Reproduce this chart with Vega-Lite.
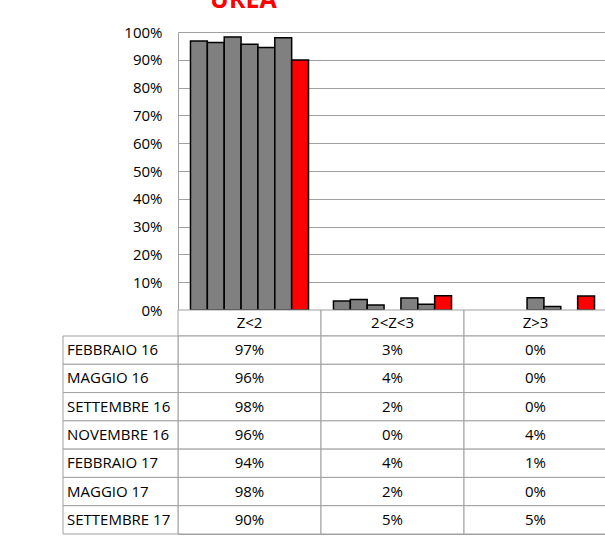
{
  "$schema": "https://vega.github.io/schema/vega-lite/v6.json",
  "autosize": {"type": "none"},
  "padding": {"left": 178, "top": 32, "right": 0, "bottom": 3},
  "width": 429,
  "height": 502,
  "background": "white",
  "config": {
    "view": {"stroke": "#a0a0a0", "strokeWidth": 1},
    "font": "Open Sans",
    "text": {"font": "Open Sans", "fontSize": 15, "color": "black"}
  },
  "title": {
    "text": "UREA",
    "color": "#ff0000",
    "font": "Open Sans",
    "fontWeight": "bold",
    "fontSize": 25,
    "anchor": "start",
    "frame": "group",
    "dx": 32,
    "dy": 14,
    "baseline": "alphabetic",
    "offset": 6
  },
  "datasets": {
    "bars": [
      {"serie": "FEBBRAIO 16", "cat": "Z<2", "value": 0.968},
      {"serie": "FEBBRAIO 16", "cat": "2<Z<3", "value": 0.032},
      {"serie": "FEBBRAIO 16", "cat": "Z>3", "value": 0.0},
      {"serie": "MAGGIO 16", "cat": "Z<2", "value": 0.962},
      {"serie": "MAGGIO 16", "cat": "2<Z<3", "value": 0.038},
      {"serie": "MAGGIO 16", "cat": "Z>3", "value": 0.0},
      {"serie": "SETTEMBRE 16", "cat": "Z<2", "value": 0.982},
      {"serie": "SETTEMBRE 16", "cat": "2<Z<3", "value": 0.018},
      {"serie": "SETTEMBRE 16", "cat": "Z>3", "value": 0.0},
      {"serie": "NOVEMBRE 16", "cat": "Z<2", "value": 0.956},
      {"serie": "NOVEMBRE 16", "cat": "2<Z<3", "value": 0.0},
      {"serie": "NOVEMBRE 16", "cat": "Z>3", "value": 0.044},
      {"serie": "FEBBRAIO 17", "cat": "Z<2", "value": 0.944},
      {"serie": "FEBBRAIO 17", "cat": "2<Z<3", "value": 0.043},
      {"serie": "FEBBRAIO 17", "cat": "Z>3", "value": 0.013},
      {"serie": "MAGGIO 17", "cat": "Z<2", "value": 0.979},
      {"serie": "MAGGIO 17", "cat": "2<Z<3", "value": 0.021},
      {"serie": "MAGGIO 17", "cat": "Z>3", "value": 0.0},
      {"serie": "SETTEMBRE 17", "cat": "Z<2", "value": 0.899},
      {"serie": "SETTEMBRE 17", "cat": "2<Z<3", "value": 0.051},
      {"serie": "SETTEMBRE 17", "cat": "Z>3", "value": 0.05}
    ],
    "header": [
      {"cat": "Z<2"},
      {"cat": "2<Z<3"},
      {"cat": "Z>3"}
    ]
  },
  "resolve": {"scale": {"x": "independent", "y": "independent"}},
  "layer": [
    {
      "data": {"name": "bars"},
      "transform": [{"filter": "datum.value > 0"}],
      "mark": {"type": "bar", "stroke": "black", "strokeWidth": 1.5},
      "encoding": {
        "x": {"field": "cat", "type": "nominal", "sort": ["Z<2", "2<Z<3", "Z>3"],
              "scale": {"domain": ["Z<2", "2<Z<3", "Z>3"], "paddingInner": 0, "paddingOuter": 0}, "axis": null},
        "xOffset": {"field": "serie", "type": "nominal",
              "scale": {"domain": ["FEBBRAIO 16", "MAGGIO 16", "SETTEMBRE 16", "NOVEMBRE 16", "FEBBRAIO 17", "MAGGIO 17", "SETTEMBRE 17"], "paddingInner": 0, "paddingOuter": 0.74}},
        "y": {"field": "value", "type": "quantitative",
              "scale": {"domain": [0, 1], "range": [278, 0], "nice": false, "zero": true},
              "axis": {"title": null, "format": ".0%", "values": [0, 0.1, 0.2, 0.3, 0.4, 0.5, 0.6, 0.7, 0.8, 0.9, 1],
                       "grid": true, "gridColor": "#a0a0a0", "gridWidth": 1, "gridOpacity": 1,
                       "domain": false, "ticks": false, "tickSize": 0, "labelPadding": 16,
                       "labelFont": "Open Sans", "labelFontSize": 15, "labelColor": "black"}},
        "color": {"field": "serie", "type": "nominal",
              "scale": {"domain": ["FEBBRAIO 16", "MAGGIO 16", "SETTEMBRE 16", "NOVEMBRE 16", "FEBBRAIO 17", "MAGGIO 17", "SETTEMBRE 17"],
                        "range": ["#808080", "#808080", "#808080", "#808080", "#808080", "#808080", "#ff0000"]},
              "legend": null}
      }
    },
    {
      "data": {"name": "header"},
      "mark": {"type": "rect", "fill": "white", "stroke": "#a0a0a0", "strokeWidth": 1},
      "encoding": {
        "x": {"field": "cat", "type": "nominal", "scale": {"domain": ["Z<2", "2<Z<3", "Z>3"], "paddingInner": 0, "paddingOuter": 0}, "axis": null},
        "y": {"datum": "hdr", "type": "nominal", "scale": {"domain": ["hdr"], "range": [278, 304], "paddingInner": 0, "paddingOuter": 0}, "axis": null}
      }
    },
    {
      "data": {"name": "header"},
      "mark": {"type": "text", "baseline": "middle", "align": "center"},
      "encoding": {
        "x": {"field": "cat", "type": "nominal", "scale": {"domain": ["Z<2", "2<Z<3", "Z>3"], "paddingInner": 0, "paddingOuter": 0}, "axis": null},
        "y": {"datum": "hdr", "type": "nominal", "scale": {"domain": ["hdr"], "range": [278, 304], "paddingInner": 0, "paddingOuter": 0}, "axis": null},
        "text": {"field": "cat"}
      }
    },
    {
      "data": {"name": "bars"},
      "mark": {"type": "rect", "fill": "white", "stroke": "#a0a0a0", "strokeWidth": 1},
      "encoding": {
        "x": {"field": "cat", "type": "nominal", "scale": {"domain": ["Z<2", "2<Z<3", "Z>3"], "paddingInner": 0, "paddingOuter": 0}, "axis": null},
        "y": {"field": "serie", "type": "nominal",
              "scale": {"domain": ["FEBBRAIO 16", "MAGGIO 16", "SETTEMBRE 16", "NOVEMBRE 16", "FEBBRAIO 17", "MAGGIO 17", "SETTEMBRE 17"], "range": [304, 502], "paddingInner": 0, "paddingOuter": 0},
              "axis": null}
      }
    },
    {
      "data": {"name": "bars"},
      "mark": {"type": "text", "baseline": "middle", "align": "center"},
      "encoding": {
        "x": {"field": "cat", "type": "nominal", "scale": {"domain": ["Z<2", "2<Z<3", "Z>3"], "paddingInner": 0, "paddingOuter": 0}, "axis": null},
        "y": {"field": "serie", "type": "nominal",
              "scale": {"domain": ["FEBBRAIO 16", "MAGGIO 16", "SETTEMBRE 16", "NOVEMBRE 16", "FEBBRAIO 17", "MAGGIO 17", "SETTEMBRE 17"], "range": [304, 502], "paddingInner": 0, "paddingOuter": 0},
              "axis": null},
        "text": {"field": "value", "type": "quantitative", "format": ".0%"}
      }
    },
    {
      "data": {"name": "bars"},
      "transform": [{"filter": "datum.cat === 'Z<2'"}],
      "mark": {"type": "rect", "fill": "white", "stroke": "#a0a0a0", "strokeWidth": 1},
      "encoding": {
        "x": {"datum": "label", "type": "nominal", "scale": {"domain": ["label"], "range": [-115, 0], "paddingInner": 0, "paddingOuter": 0}, "axis": null},
        "y": {"field": "serie", "type": "nominal",
              "scale": {"domain": ["FEBBRAIO 16", "MAGGIO 16", "SETTEMBRE 16", "NOVEMBRE 16", "FEBBRAIO 17", "MAGGIO 17", "SETTEMBRE 17"], "range": [304, 502], "paddingInner": 0, "paddingOuter": 0},
              "axis": null}
      }
    },
    {
      "data": {"name": "bars"},
      "transform": [{"filter": "datum.cat === 'Z<2'"}],
      "mark": {"type": "text", "baseline": "middle", "align": "left", "dx": 4},
      "encoding": {
        "x": {"datum": 0, "type": "quantitative", "scale": {"domain": [0, 1], "range": [-115, 0], "nice": false, "zero": false}, "axis": null},
        "y": {"field": "serie", "type": "nominal",
              "scale": {"domain": ["FEBBRAIO 16", "MAGGIO 16", "SETTEMBRE 16", "NOVEMBRE 16", "FEBBRAIO 17", "MAGGIO 17", "SETTEMBRE 17"], "range": [304, 502], "paddingInner": 0, "paddingOuter": 0},
              "axis": null},
        "text": {"field": "serie"}
      }
    }
  ]
}
